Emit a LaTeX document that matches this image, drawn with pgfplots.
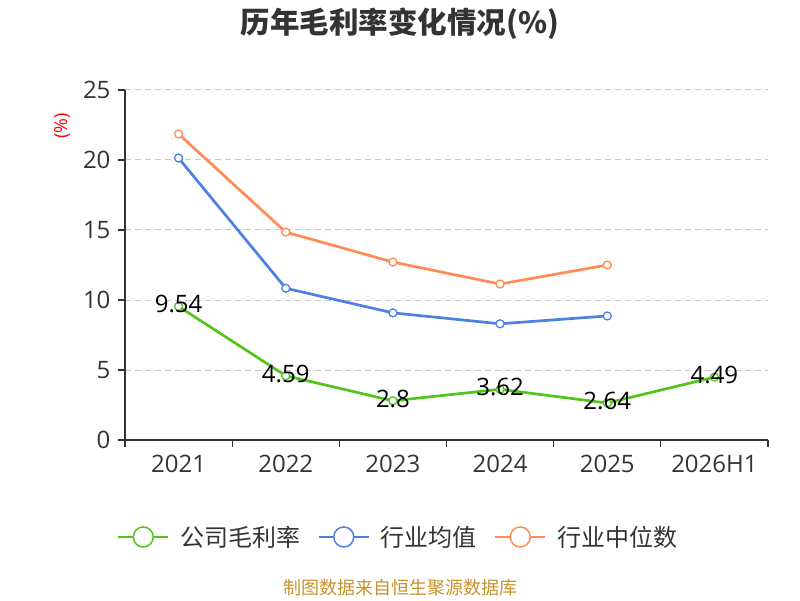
\documentclass[border=0pt]{standalone}
\usepackage{fontspec}
\setmainfont{Open Sans}
\newfontfamily\cjk{Noto Sans CJK SC}
\usepackage{pgfplots}
\pgfplotsset{compat=1.18}
\definecolor{cgreen}{RGB}{82,196,26}
\definecolor{cblue}{RGB}{78,128,225}
\definecolor{corange}{RGB}{255,140,85}
\definecolor{cdark}{RGB}{51,51,51}
\definecolor{cgrid}{RGB}{200,200,200}
\definecolor{csrc}{RGB}{200,146,42}
\begin{document}
\begin{tikzpicture}[x=1pt,y=1pt]
\path[use as bounding box] (0,0) rectangle (800,600);
\begin{axis}[
  at={(125pt,160pt)}, anchor=south west,
  width=643pt, height=350pt, scale only axis,
  xmin=-0.5, xmax=5.5, ymin=0, ymax=25,
  xtick={-0.5,0.5,...,5.5},
  x tick label as interval=true,
  xticklabels={2021,2022,2023,2024,2025,2026H1},
  ytick={0,5,...,25},
  axis x line*=bottom, axis y line*=left,
  axis line style={cdark, line width=1.2pt, -},
  major tick length=7pt,
  tick align=outside,
  tick style={cdark, line width=1.2pt},
  ymajorgrids, grid style={cgrid, dashed, dash pattern=on 6pt off 4pt, line width=1pt},
  tick label style={font=\fontsize{24}{28}\selectfont, text=cdark},
  /pgf/number format/assume math mode=true,
  xticklabel style={yshift=-5pt},
  yticklabel style={xshift=-4pt},
  legend style={at={(0.425,-0.277)}, anchor=center, legend columns=3, draw=none,
     font=\cjk\fontsize{24}{28}\selectfont, text=cdark,
     /tikz/every odd column/.append style={column sep=9pt},
     /tikz/every even column/.append style={column sep=16pt}},
  legend image code/.code={
     \draw[#1, line width=1.5pt, mark=none] (0pt,0pt) -- (50pt,0pt);
     \draw[#1, line width=1.5pt, fill=white, mark=none] (25pt,0pt) circle (10pt);
  },
]
\addplot[cgreen, line width=2.7pt, mark=*, mark size=4pt, mark options={fill=white, draw=cgreen, line width=1.3pt},
  nodes near coords, point meta=explicit symbolic,
  every node near coord/.append style={anchor=center, yshift=2pt, text=black, font=\fontsize{24}{28}\selectfont}]
  coordinates {(0,9.54)[9.54] (1,4.59)[4.59] (2,2.8)[2.8] (3,3.62)[3.62] (4,2.64)[2.64] (5,4.49)[4.49]};
\addlegendentry{公司毛利率}
\addplot[cblue, line width=2.7pt, mark=*, mark size=4pt, mark options={fill=white, draw=cblue, line width=1.3pt}]
  coordinates {(0,20.14) (1,10.84) (2,9.08) (3,8.30) (4,8.86)};
\addlegendentry{行业均值}
\addplot[corange, line width=2.7pt, mark=*, mark size=4pt, mark options={fill=white, draw=corange, line width=1.3pt}]
  coordinates {(0,21.86) (1,14.85) (2,12.71) (3,11.14) (4,12.50)};
\addlegendentry{行业中位数}
\end{axis}
\node[rotate=90, text=red, font=\fontsize{18}{21}\selectfont] at (62,474) {(\%)};
\node[text=cdark, font=\cjk\fontsize{29.5}{34}\selectfont\bfseries] at (400,576) {历年毛利率变化情况(\%)};
\node[text=csrc, font=\cjk\fontsize{18}{21}\selectfont] at (400,12) {制图数据来自恒生聚源数据库};
\end{tikzpicture}
\end{document}
